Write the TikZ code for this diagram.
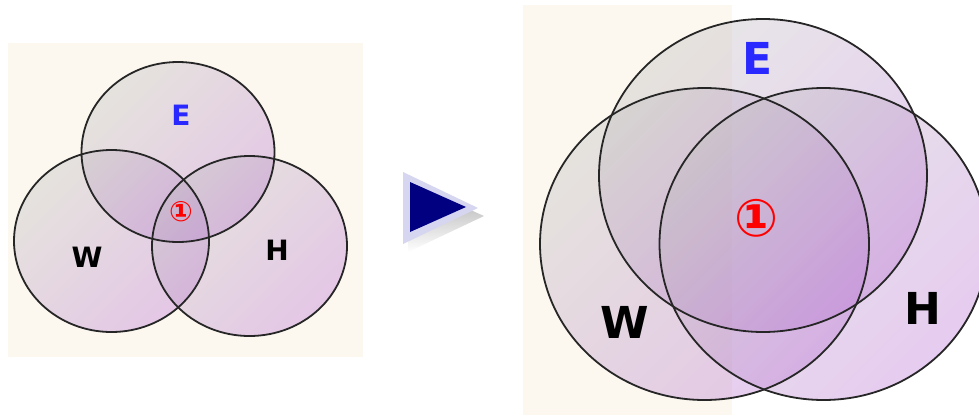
\documentclass[tikz,border=0pt]{standalone}
\usepackage{fontspec}
\setmainfont{DejaVu Sans}
\begin{document}
\begin{tikzpicture}[x=1pt,y=-1pt,
  vennfill/.style={top color=vgray, bottom color=vpurple, shading angle=45, fill opacity=0.33},
  vennline/.style={draw=black!85, line width=1.8pt},
  lblsmall/.style={font=\bfseries\fontsize{28}{28}\selectfont, inner sep=0pt},
  lblbig/.style={font=\bfseries\fontsize{44}{44}\selectfont, inner sep=0pt},
]
\definecolor{bgbeige}{RGB}{252,248,240}
\definecolor{vgray}{RGB}{185,185,185}
\definecolor{vpurple}{RGB}{180,100,210}
\definecolor{eblue}{RGB}{40,40,255}
\definecolor{navy}{RGB}{0,0,128}
\definecolor{arrlav}{RGB}{214,214,240}
\path[use as bounding box] (0,0) rectangle (979,415);
\fill[white] (0,0) rectangle (979,415);
% backgrounds
\fill[bgbeige] (8,43) rectangle (363,357);
\fill[bgbeige] (523,5) rectangle (732,415);
% venn circles: fills first, then outlines
\def\circlelist{178/152/96.5/90, 111.5/241/97.5/91, 249.5/246/97.5/90,
  763/175.5/164/156.5, 704.5/244/164.5/156, 823.5/244/164/156}
\foreach \cx/\cy/\rx/\ry in \circlelist
  \shade[vennfill] (\cx,\cy) ellipse [x radius=\rx, y radius=\ry];
\foreach \cx/\cy/\rx/\ry in \circlelist
  \draw[vennline] (\cx,\cy) ellipse [x radius=\rx, y radius=\ry];
% left labels
\node[lblsmall, text=eblue] (eL) at (181,115) {E};
\node[lblsmall] (wL) at (87,257) {W};
\node[lblsmall] (hL) at (277,250) {H};
\node[inner sep=0pt, text=red, font=\bfseries\fontsize{28}{28}\selectfont] (oneL) at (181,212) {①};
% arrow
\shade[top color=gray!70, bottom color=white, shading angle=0] (408,182) -- (484,216) -- (408,252) -- cycle;
\fill[arrlav] (403,172) -- (478,208) -- (403,244) -- cycle;
\fill[navy] (410,182) -- (466,207) -- (410,232) -- cycle;
% right labels
\node[lblbig, text=eblue] (eR) at (758,58) {E};
\node[lblbig] (wR) at (625,322) {W};
\node[lblbig] (hR) at (923,308) {H};
\node[inner sep=0pt, text=red, font=\bfseries\fontsize{52}{52}\selectfont] (oneR) at (757,218) {①};
\end{tikzpicture}
\end{document}
